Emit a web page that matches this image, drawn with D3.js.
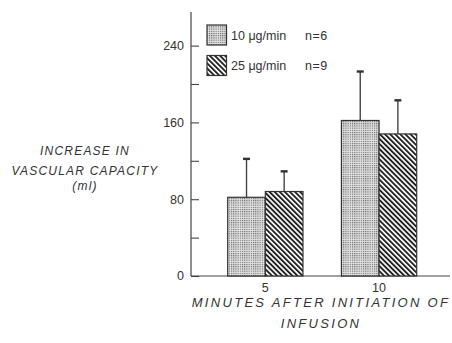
<!DOCTYPE html>
<html>
<head>
<meta charset="utf-8">
<script src="https://cdn.jsdelivr.net/npm/d3@7"></script>
<style>
    body { margin: 0; background: #fff; }
    text { font-family: "Liberation Sans", Arial, sans-serif; fill: #333; }
</style>
</head>
<body>
<div class="graph-goes-here"></div>
<script>
// data
var categories = ["5", "10"];
var series = ["10 μg/min", "25 μg/min"];
var seriesN = ["n=6", "n=9"];
var means10 = [82, 162];
var means25 = [88, 148];
var sd10 = [40, 51];
var sd25 = [21, 35];
var majorTicks = [0, 80, 160, 240];
var minorTicks = [40, 120, 200];

var width = 452, height = 343;

var svg = d3.select(".graph-goes-here")
    .append("svg")
    .attr("width", width)
    .attr("height", height);

// fill patterns
var defs = svg.append("defs");
var dots = defs.append("pattern")
    .attr("id", "dots")
    .attr("patternUnits", "userSpaceOnUse")
    .attr("width", 2.2).attr("height", 2.2);
dots.append("rect").attr("width", 2.2).attr("height", 2.2).attr("fill", "#e0e0e0");
dots.append("rect").attr("width", 1.1).attr("height", 1.1).attr("fill", "#666");

var hatch = defs.append("pattern")
    .attr("id", "hatch")
    .attr("patternUnits", "userSpaceOnUse")
    .attr("width", 3.6).attr("height", 3.6)
    .attr("patternTransform", "rotate(-45)");
hatch.append("rect").attr("width", 3.6).attr("height", 3.6).attr("fill", "#fff");
hatch.append("rect").attr("width", 1.9).attr("height", 3.6).attr("fill", "#222");

var fills = ["url(#dots)", "url(#hatch)"];

var y = d3.scaleLinear().domain([0, 275]).range([276, 12]);
var x = d3.scaleBand().domain(categories).range([227.7, 416.7]).paddingInner(0.338).paddingOuter(0);
var xs = d3.scaleBand().domain([0, 1]).range([0, x.bandwidth()]);

// axes
var axisX0 = 191;
svg.append("line")
    .attr("x1", axisX0).attr("x2", axisX0)
    .attr("y1", y(275)).attr("y2", y(0))
    .attr("stroke", "#444").attr("stroke-width", 1.2);
svg.append("line")
    .attr("x1", axisX0).attr("x2", 450)
    .attr("y1", y(0)).attr("y2", y(0))
    .attr("stroke", "#444").attr("stroke-width", 1.2);

var yAxis = svg.append("g")
    .attr("transform", "translate(" + axisX0 + ",0)")
    .call(d3.axisRight(y).tickValues(majorTicks.concat(minorTicks)).tickSize(8).tickFormat(""));
yAxis.select(".domain").remove();
yAxis.selectAll(".tick line").attr("stroke", "#444").attr("stroke-width", 1.1);

svg.selectAll(".ylab")
    .data(majorTicks)
    .enter().append("text")
    .attr("class", "ylab")
    .attr("x", axisX0 - 7)
    .attr("y", d => y(d))
    .attr("dy", "0.35em")
    .attr("text-anchor", "end")
    .style("font-size", "12.5px")
    .text(d => d);

// bars
var rows = [];
categories.forEach((c, i) => {
    rows.push({ cat: c, s: 0, mean: means10[i], sd: sd10[i] });
    rows.push({ cat: c, s: 1, mean: means25[i], sd: sd25[i] });
});

svg.selectAll(".err")
    .data(rows)
    .enter().append("line")
    .attr("x1", d => x(d.cat) + xs(d.s) + xs.bandwidth() / 2)
    .attr("x2", d => x(d.cat) + xs(d.s) + xs.bandwidth() / 2)
    .attr("y1", d => y(d.mean))
    .attr("y2", d => y(d.mean + d.sd))
    .attr("stroke", "#444").attr("stroke-width", 1.4);

svg.selectAll(".cap")
    .data(rows)
    .enter().append("line")
    .attr("x1", d => x(d.cat) + xs(d.s) + xs.bandwidth() / 2 - 3.5)
    .attr("x2", d => x(d.cat) + xs(d.s) + xs.bandwidth() / 2 + 3.5)
    .attr("y1", d => y(d.mean + d.sd))
    .attr("y2", d => y(d.mean + d.sd))
    .attr("stroke", "#333").attr("stroke-width", 2.4);

svg.selectAll(".bar")
    .data(rows)
    .enter().append("rect")
    .attr("x", d => x(d.cat) + xs(d.s))
    .attr("y", d => y(d.mean))
    .attr("width", xs.bandwidth())
    .attr("height", d => y(0) - y(d.mean))
    .attr("fill", d => fills[d.s])
    .attr("stroke", "#333").attr("stroke-width", 1.2);

svg.selectAll(".xlab")
    .data(categories)
    .enter().append("text")
    .attr("x", d => x(d) + x.bandwidth() / 2)
    .attr("y", 292)
    .attr("text-anchor", "middle")
    .style("font-size", "12.5px")
    .text(d => d);

// legend
series.forEach((s, i) => {
    var ly = 25 + i * 30.5;
    svg.append("rect")
        .attr("x", 207).attr("y", ly)
        .attr("width", 19.5).attr("height", 20)
        .attr("fill", fills[i])
        .attr("stroke", "#333").attr("stroke-width", 1.2);
    svg.append("text")
        .attr("x", 231).attr("y", ly + 14.5)
        .style("font-size", "12.5px")
        .text(s);
    svg.append("text")
        .attr("x", 305).attr("y", ly + 14.5)
        .style("font-size", "12.5px")
        .style("letter-spacing", "0.5px")
        .text(seriesN[i]);
});

// titles
var yTitle = ["INCREASE IN", "VASCULAR CAPACITY", "(ml)"];
var yTitleY = [155, 175, 190];
yTitle.forEach((t, i) => {
    svg.append("text")
        .attr("x", 85).attr("y", yTitleY[i])
        .attr("text-anchor", "middle")
        .style("font-size", "12px")
        .style("font-style", "italic")
        .style("letter-spacing", "1.2px")
        .text(t);
});

var xTitle = ["MINUTES AFTER INITIATION OF", "INFUSION"];
var xTitleY = [307, 328];
xTitle.forEach((t, i) => {
    svg.append("text")
        .attr("x", 321).attr("y", xTitleY[i])
        .attr("text-anchor", "middle")
        .style("font-size", "13px")
        .style("font-style", "italic")
        .style("letter-spacing", "2.3px")
        .text(t);
});
</script>
</body>
</html>
